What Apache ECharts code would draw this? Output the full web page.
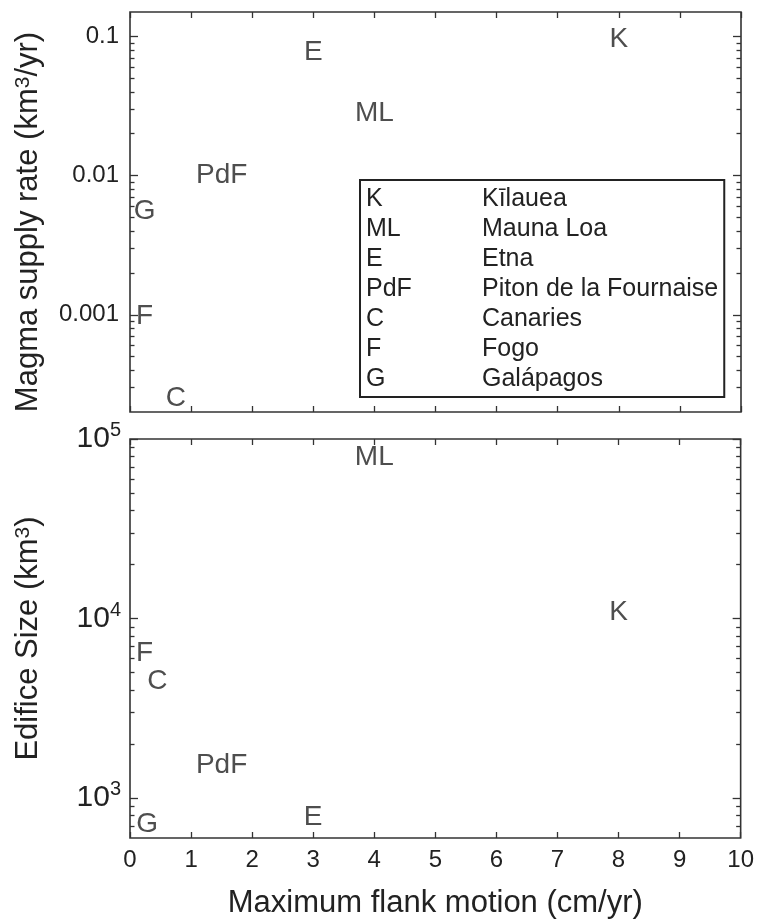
<!DOCTYPE html>
<html>
<head>
<meta charset="utf-8">
<script src="https://cdn.jsdelivr.net/npm/echarts@6/dist/echarts.min.js"></script>
<style>
  html, body { margin: 0; padding: 0; background: #fff; }
  #chart { width: 757px; height: 923px; }
</style>
</head>
<body>
<div id="chart"></div>
<script>
const codes = ["K", "ML", "E", "PdF", "C", "F", "G"];
const volcanoNames = ["Kīlauea", "Mauna Loa", "Etna", "Piton de la Fournaise", "Canaries", "Fogo", "Galápagos"];

// top panel: flank motion (cm/yr) vs magma supply rate (km3/yr)
const flankTop = [8, 4, 3, 1.5, 0.75, 0.24, 0.24];
const supplyRate = [0.095, 0.028, 0.077, 0.01, 0.00025, 0.00098, 0.0055];

// bottom panel: flank motion (cm/yr) vs edifice size (km3)
const flankBottom = [8, 4, 3, 1.5, 0.45, 0.24, 0.28];
const edificeSize = [10900, 79000, 783, 1530, 4450, 6390, 711];

const rateMajor = [0.001, 0.01, 0.1];
const rateMinor = [0.0003, 0.0004, 0.0005, 0.0006, 0.0007, 0.0008, 0.0009,
  0.002, 0.003, 0.004, 0.005, 0.006, 0.007, 0.008, 0.009,
  0.02, 0.03, 0.04, 0.05, 0.06, 0.07, 0.08, 0.09];
const sizeMajor = [1000, 10000, 100000];
const sizeMinor = [700, 800, 900,
  2000, 3000, 4000, 5000, 6000, 7000, 8000, 9000,
  20000, 30000, 40000, 50000, 60000, 70000, 80000, 90000];

const textColor = "#222";
const lineColor = "#333";
const font = "Liberation Sans";

const chart = echarts.init(document.getElementById("chart"));

function xAxisCfg(gridIndex, position, showLabel) {
  return {
    gridIndex: gridIndex,
    type: "value",
    position: position,
    min: 0,
    max: 10,
    interval: 1,
    axisLine: { show: false },
    axisTick: { inside: true, length: 6, lineStyle: { color: lineColor, width: 1.3 } },
    axisLabel: {
      show: showLabel,
      margin: 10,
      fontSize: 24,
      fontFamily: font,
      color: textColor,
    },
    splitLine: { show: false },
  };
}

function yAxisCfg(gridIndex, position, min, max, ticks, tickLen, label, name) {
  return {
    gridIndex: gridIndex,
    type: "log",
    logBase: 10,
    position: position,
    min: min,
    max: max,
    name: name ? name.text : "",
    nameLocation: "middle",
    nameGap: name ? name.gap : 0,
    nameRotate: 90,
    nameTextStyle: {
      fontSize: 31,
      fontFamily: font,
      color: textColor,
      padding: name ? name.pad : 0,
      rich: {
        sup: { fontSize: 21, verticalAlign: "top", fontFamily: font, color: textColor },
      },
    },
    axisLine: { show: false },
    axisTick: {
      inside: true,
      length: tickLen,
      customValues: ticks,
      lineStyle: { color: lineColor, width: 1.3 },
    },
    axisLabel: label
      ? Object.assign({ customValues: ticks, fontFamily: font, color: textColor }, label)
      : { show: false },
    splitLine: { show: false },
  };
}

const topName = { text: "Magma supply rate (km{sup|3}/yr)", gap: 86, pad: [0, 20, 0, 0] };
const bottomName = { text: "Edifice Size (km{sup|3})", gap: 86, pad: 0 };

const rateLabel = {
  margin: 11,
  fontSize: 24,
  formatter: (v) => String(v),
};
const sizeLabel = {
  margin: 9,
  fontSize: 30,
  formatter: (v) => "{b|10}{s|" + Math.round(Math.log10(v)) + "}",
  rich: {
    b: { fontSize: 30, lineHeight: 37, fontFamily: font, color: textColor },
    s: { fontSize: 20, verticalAlign: "top", fontFamily: font, color: textColor },
  },
};

const series = [];
codes.forEach((code, i) => {
  series.push({
    name: code,
    type: "scatter",
    xAxisIndex: 0,
    yAxisIndex: 0,
    data: [[flankTop[i], supplyRate[i]]],
  });
  series.push({
    name: code,
    type: "scatter",
    xAxisIndex: 2,
    yAxisIndex: 4,
    data: [[flankBottom[i], edificeSize[i]]],
  });
});
series.forEach((s) => {
  s.symbol = "circle";
  s.symbolSize = 1;
  s.silent = true;
  s.itemStyle = { color: "rgba(0,0,0,0)" };
  s.label = {
    show: true,
    position: "inside",
    formatter: s.name,
    fontSize: 28,
    fontFamily: font,
    color: textColor,
  };
});

const option = {
  animation: false,
  backgroundColor: "#fff",
  grid: [
    { left: 130, right: 16, top: 12, height: 400, show: true, borderColor: lineColor, borderWidth: 1.6 },
    { left: 130, right: 16, top: 439, height: 399, show: true, borderColor: lineColor, borderWidth: 1.6 },
  ],
  xAxis: [
    xAxisCfg(0, "bottom", false),
    xAxisCfg(0, "top", false),
    Object.assign(xAxisCfg(1, "bottom", true), {
      name: "Maximum flank motion (cm/yr)",
      nameLocation: "middle",
      nameGap: 50,
      nameTextStyle: { fontSize: 31, fontFamily: font, color: textColor },
    }),
    xAxisCfg(1, "top", false),
  ],
  yAxis: [
    yAxisCfg(0, "left", 0.0002, 0.15, rateMajor, 8, rateLabel, topName),
    yAxisCfg(0, "left", 0.0002, 0.15, rateMinor, 4.5, null, null),
    yAxisCfg(0, "right", 0.0002, 0.15, rateMajor, 8, null, null),
    yAxisCfg(0, "right", 0.0002, 0.15, rateMinor, 4.5, null, null),
    yAxisCfg(1, "left", 600, 100000, sizeMajor, 8, sizeLabel, bottomName),
    yAxisCfg(1, "left", 600, 100000, sizeMinor, 4.5, null, null),
    yAxisCfg(1, "right", 600, 100000, sizeMajor, 8, null, null),
    yAxisCfg(1, "right", 600, 100000, sizeMinor, 4.5, null, null),
  ],
  legend: {
    data: codes,
    orient: "vertical",
    left: 360,
    top: 180,
    selectedMode: false,
    itemWidth: 0,
    itemHeight: 0,
    itemGap: 5,
    padding: [7, 6, 5, 1],
    borderColor: "#222",
    borderWidth: 2,
    formatter: (name) => "{c|" + name + "}{n|" + volcanoNames[codes.indexOf(name)] + "}",
    textStyle: {
      rich: {
        c: { width: 116, fontSize: 25, fontFamily: font, color: textColor },
        n: { fontSize: 25, fontFamily: font, color: textColor },
      },
    },
  },
  series: series,
};

chart.setOption(option);
</script>
</body>
</html>
